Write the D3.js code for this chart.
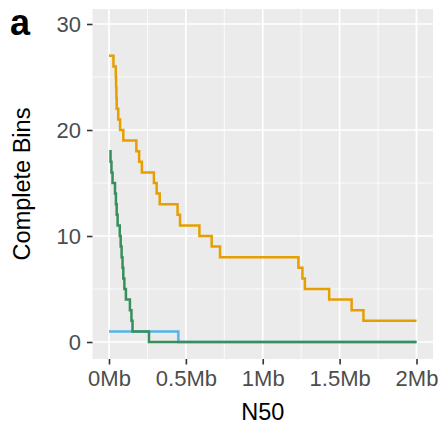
<!DOCTYPE html>
<html>
<head>
<meta charset="utf-8">
<script src="https://cdn.jsdelivr.net/npm/d3@7"></script>
<style>
  body { margin: 0; background: #fff; }
  text { font-family: "Liberation Sans", Arial, Helvetica, sans-serif; }
</style>
</head>
<body>
<div id="chart"></div>
<script>
// step data (N50 in Mb, complete bins)
const orangeN50 = [0, 0.029, 0.044, 0.046, 0.048, 0.050, 0.060, 0.072, 0.093, 0.178, 0.196, 0.214, 0.292, 0.310, 0.330, 0.446, 0.462, 0.588, 0.668, 0.722, 1.232, 1.258, 1.274, 1.432, 1.578, 1.655, 2.0];
const orangeBins = [27, 26, 25, 24, 23, 22, 21, 20, 19, 18, 17, 16, 15, 14, 13, 12, 11, 10, 9, 8, 7, 6, 5, 4, 3, 2, 2];

const blueN50 = [0, 0.451, 2.0];
const blueBins = [1, 0, 0];

const greenN50 = [0.002, 0.010, 0.016, 0.023, 0.039, 0.045, 0.050, 0.056, 0.070, 0.076, 0.082, 0.088, 0.093, 0.100, 0.110, 0.136, 0.146, 0.153, 0.260, 2.0];
const greenBins = [18, 17, 16, 15, 14, 13, 12, 11, 10, 9, 8, 7, 6, 5, 4, 3, 2, 1, 0, 0];

const xTicks = [0, 0.5, 1, 1.5, 2];
const xTickLabels = ["0Mb", "0.5Mb", "1Mb", "1.5Mb", "2Mb"];
const xMinor = [0.25, 0.75, 1.25, 1.75];
const yTicks = [0, 10, 20, 30];
const yMinor = [5, 15, 25];

const width = 444, height = 424;
const panel = { left: 92.5, right: 433, top: 9, bottom: 359 };

const x = d3.scaleLinear().domain([0, 2]).range([109, 416.5]);
const y = d3.scaleLinear().domain([0, 30]).range([342, 24]);

const svg = d3.select("#chart").append("svg")
  .attr("width", width)
  .attr("height", height);

// panel background
svg.append("rect")
  .attr("x", panel.left)
  .attr("y", panel.top)
  .attr("width", panel.right - panel.left)
  .attr("height", panel.bottom - panel.top)
  .attr("fill", "#EBEBEB");

let grid = svg.append("g");

// minor grid
grid.selectAll(".ym").data(yMinor).enter().append("line")
  .attr("x1", panel.left).attr("x2", panel.right)
  .attr("y1", d => y(d)).attr("y2", d => y(d))
  .attr("stroke", "#fff").attr("stroke-width", 0.8);
grid.selectAll(".xm").data(xMinor).enter().append("line")
  .attr("y1", panel.top).attr("y2", panel.bottom)
  .attr("x1", d => x(d)).attr("x2", d => x(d))
  .attr("stroke", "#fff").attr("stroke-width", 0.8);

// major grid
grid.selectAll(".yM").data(yTicks).enter().append("line")
  .attr("x1", panel.left).attr("x2", panel.right)
  .attr("y1", d => y(d)).attr("y2", d => y(d))
  .attr("stroke", "#fff").attr("stroke-width", 1.7);
grid.selectAll(".xM").data(xTicks).enter().append("line")
  .attr("y1", panel.top).attr("y2", panel.bottom)
  .attr("x1", d => x(d)).attr("x2", d => x(d))
  .attr("stroke", "#fff").attr("stroke-width", 1.7);

// lines
const line = d3.line()
  .x(d => x(d[0]))
  .y(d => y(d[1]))
  .curve(d3.curveStepAfter);

const series = [
  { n50: orangeN50, bins: orangeBins, color: "#E69F00" },
  { n50: blueN50, bins: blueBins, color: "#56B4E9" },
  { n50: greenN50, bins: greenBins, color: "#388E5C" }
];

series.forEach(s => {
  svg.append("path")
    .datum(s.n50.map((v, i) => [v, s.bins[i]]))
    .attr("d", line)
    .attr("fill", "none")
    .attr("stroke", s.color)
    .attr("stroke-width", 2.5);
});

// axes
let yAxis = svg.append("g")
  .attr("transform", `translate(${panel.left},0)`)
  .call(d3.axisLeft(y).tickValues(yTicks).tickSize(5.5).tickPadding(6));

let xAxis = svg.append("g")
  .attr("transform", `translate(0,${panel.bottom})`)
  .call(d3.axisBottom(x).tickValues(xTicks).tickSize(5.5).tickPadding(6)
    .tickFormat((d, i) => xTickLabels[i]));

[yAxis, xAxis].forEach(a => {
  a.select(".domain").remove();
  a.selectAll(".tick line").attr("stroke", "#333").attr("stroke-width", 1.6);
  a.selectAll(".tick text")
    .attr("fill", "#4D4D4D")
    .attr("font-size", 22);
});
yAxis.selectAll(".tick text").attr("dy", "0.36em");
xAxis.selectAll(".tick text").attr("dy", "0.72em");

// axis titles
svg.append("text")
  .attr("x", (panel.left + panel.right) / 2)
  .attr("y", 420)
  .attr("text-anchor", "middle")
  .attr("font-size", 23.5)
  .attr("fill", "#000")
  .text("N50");

svg.append("text")
  .attr("transform", `translate(30,${(panel.top + panel.bottom) / 2}) rotate(-90)`)
  .attr("text-anchor", "middle")
  .attr("font-size", 23.5)
  .attr("fill", "#000")
  .text("Complete Bins");

// panel tag
svg.append("text")
  .attr("x", 10)
  .attr("y", 35)
  .attr("font-size", 36)
  .attr("font-weight", 700)
  .attr("fill", "#000")
  .text("a");
</script>
</body>
</html>
